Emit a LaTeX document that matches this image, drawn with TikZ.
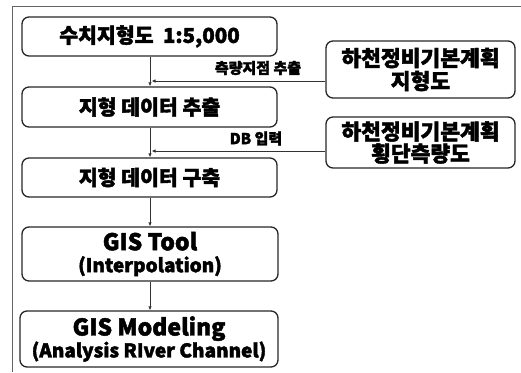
\documentclass[tikz,border=0pt]{standalone}
\usepackage{fontspec}
\setmainfont{Noto Sans CJK KR}[BoldFeatures={FakeBold=2}]
\usetikzlibrary{arrows.meta}
\begin{document}
\begin{tikzpicture}[x=1pt,y=-1pt,
  box/.style={draw=black!85,line width=1.3pt,rounded corners=7pt,align=center,font=\bfseries\fontsize{20.5}{22}\selectfont,inner sep=0pt},
  lbl/.style={font=\bfseries\fontsize{15}{17}\selectfont,inner sep=0pt},
  conn/.style={draw=black!80,line width=0.9pt,-{Latex[length=4pt,width=3.5pt]}}]
\useasboundingbox (0,0) rectangle (521,372);
\draw[black!60,line width=0.8pt] (12,372) -- (12,6.5) -- (521,6.5);
\node[box,minimum width=255pt,minimum height=39pt] (a) at (149.5,36.5) {수치지형도\ \ 1:5,000};
\node[box,minimum width=255pt,minimum height=40pt] (b) at (149.5,107) {지형 데이터 추출};
\node[box,minimum width=255pt,minimum height=39pt] (c) at (149.5,177.5) {지형 데이터 구축};
\node[box,minimum width=256pt,minimum height=54pt] (d) at (150,254) {\fontsize{23}{21}\selectfont GIS Tool\\\fontsize{19}{19}\selectfont (Interpolation)};
\node[box,minimum width=258pt,minimum height=56pt] (e) at (149,339) {\fontsize{23}{21}\selectfont GIS Modeling\\\fontsize{19}{19}\selectfont (Analysis RIver Channel)};
\node[box,minimum width=189pt,minimum height=57pt,font=\bfseries\fontsize{21.5}{23}\selectfont] (r1) at (420.5,69.5) {하천정비기본계획\\지형도};
\node[box,minimum width=189pt,minimum height=51pt,font=\bfseries\fontsize{21.5}{22}\selectfont] (r2) at (420.5,142.5) {하천정비기본계획\\횡단측량도};
\coordinate (j1) at (150,81);
\coordinate (j2) at (150,151);
\draw[conn] (a.south -| j1) -- (b.north -| j1);
\draw[conn] (b.south -| j2) -- (c.north -| j2);
\draw[conn] (c.south -| j2) -- (d.north -| j2);
\draw[conn] (d.south -| j2) -- (e.north -| j2);
\draw[conn] (r1.west |- j1) -- ([xshift=1.5pt]j1);
\draw[conn] (r2.west |- j2) -- ([xshift=1.5pt]j2);
\node[lbl] (l1) at (258,68) {측량지점 추출};
\node[lbl] (l2) at (256,138.5) {DB 입력};
\end{tikzpicture}
\end{document}
